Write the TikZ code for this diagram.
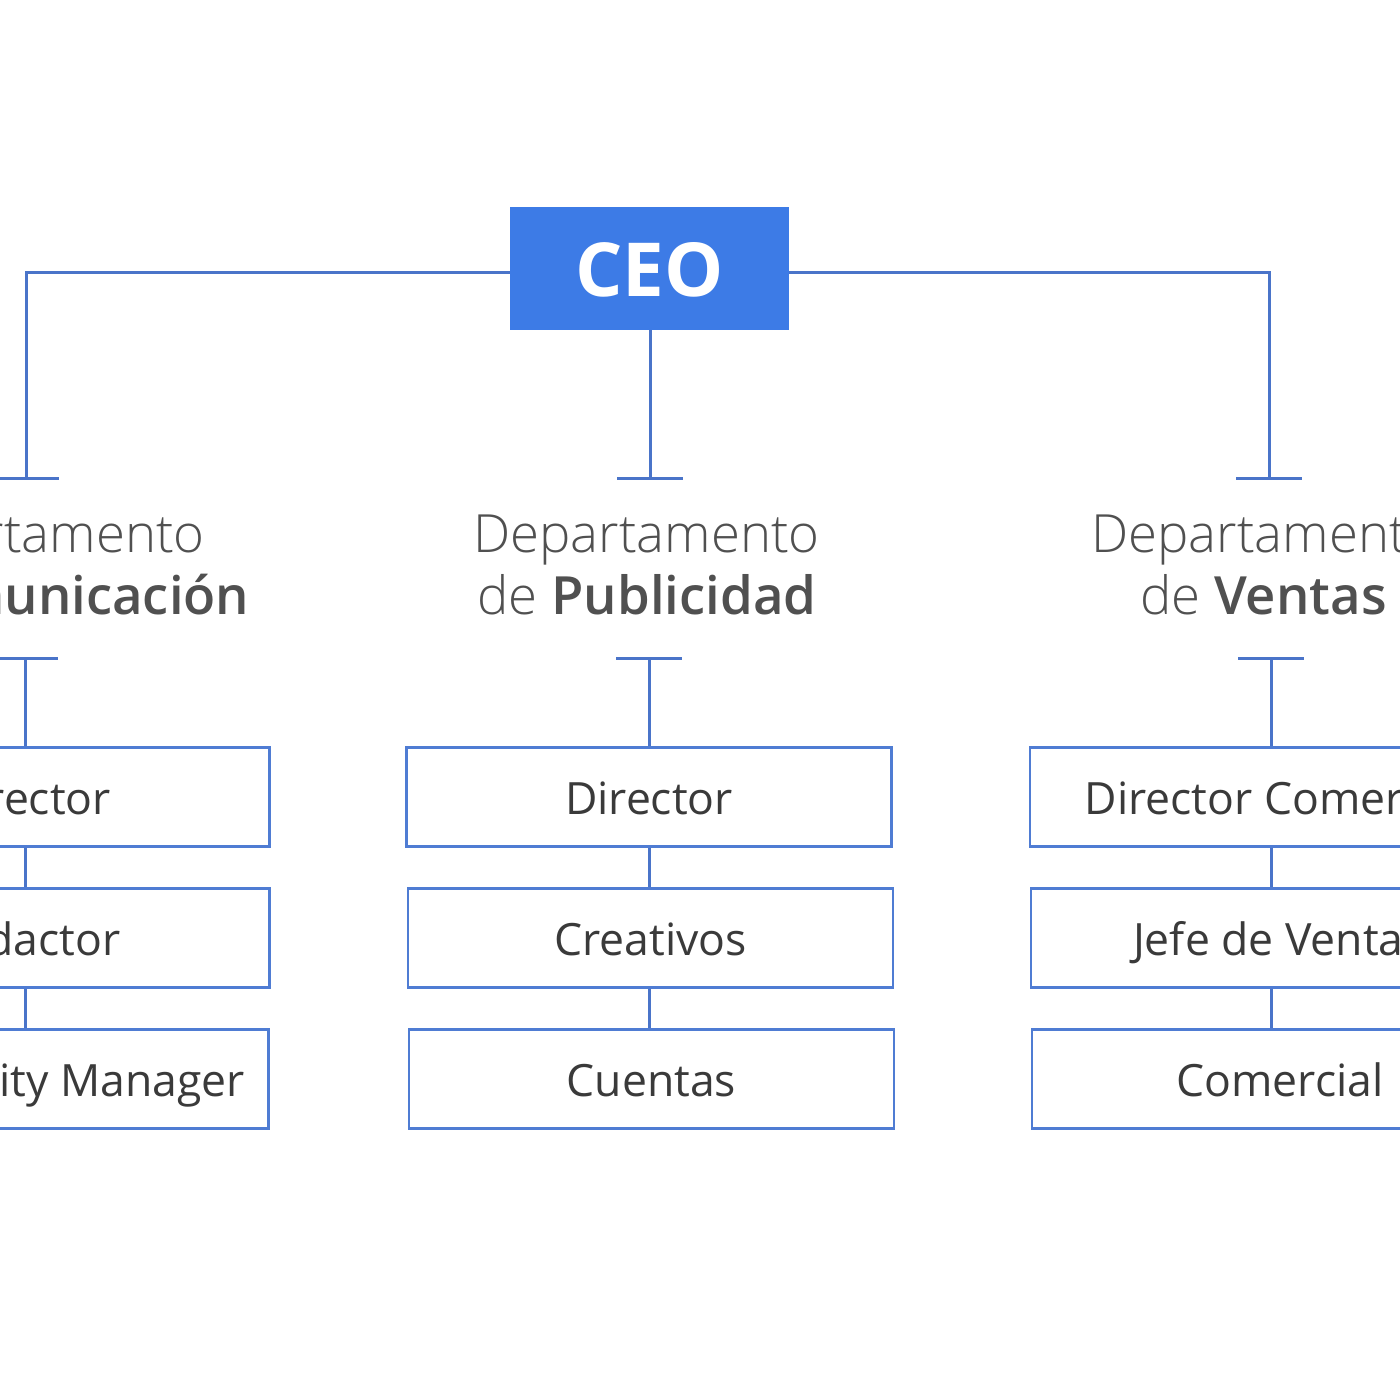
\documentclass[tikz,border=0pt]{standalone}
\usepackage{fontspec}
\setmainfont{Open Sans}
\IfFontExistsTF{Open Sans Light}{\newfontfamily\lightfont{Open Sans Light}}{\newfontfamily\lightfont{Open Sans}}
\definecolor{ceoblue}{HTML}{3D7BE6}
\definecolor{lineblue}{HTML}{4A74C9}
\definecolor{boxblue}{HTML}{4F7CD3}
\definecolor{deptgray}{HTML}{505050}
\definecolor{textgray}{HTML}{3A3A3A}
\begin{document}
\begin{tikzpicture}[x=1pt,y=-1pt,
  ceobox/.style={fill=ceoblue, text=white, minimum width=279pt, minimum height=123pt,
    inner sep=0pt, text height=55pt, text depth=0pt, font=\fontsize{74.5}{74.5}\selectfont\bfseries},
  rolebox/.style={draw=boxblue, line width=2.8pt, fill=white, minimum width=485pt, minimum height=99pt,
    inner sep=0pt, text height=34pt, text depth=0pt, text=textgray, font=\fontsize{44.5}{44.5}\selectfont},
  rolewide/.style={rolebox, minimum width=496pt},
  deptline/.style={anchor=base, text=deptgray, inner sep=0pt, font=\lightfont\fontsize{52.7}{62}\selectfont},
  conn/.style={draw=lineblue, line width=3pt},
]
\useasboundingbox (0,0) rectangle (1400,1400);
\fill[white] (0,0) rectangle (1400,1400);
\clip (0,0) rectangle (1400,1400);

% CEO
\node[ceobox] (ceo) at (649.5,268.5) {CEO};

% upper tee coordinates
\coordinate (t1) at (26,478);
\coordinate (t2) at (650,478);
\coordinate (t3) at (1269,478);
% lower tee coordinates
\coordinate (u1) at (25,658);
\coordinate (u2) at (649,658);
\coordinate (u3) at (1271,658);

% department titles
\node[deptline] (d1a) at (31.5,552) {Departamento};
\node[deptline] (d1b) at (32,614) {de \textbf{Comunicación}};
\node[deptline] (d2a) at (646.5,552) {Departamento};
\node[deptline] (d2b) at (647,614) {de \textbf{Publicidad}};
\node[deptline] (d3a) at (1264.5,552) {Departamento};
\node[deptline] (d3b) at (1263.5,614) {de \textbf{Ventas}};

% role boxes
\node[rolebox] (b11) at (27,797) {Director};
\node[rolebox] (b12) at (27,938) {Redactor};
\node[rolebox] (b13) at (26,1079) {Community Manager};
\node[rolebox] (b21) at (649,797) {Director};
\node[rolebox] (b22) at (650.5,938) {Creativos};
\node[rolebox] (b23) at (651.5,1079) {Cuentas};
\node[rolewide] (b31) at (1278,797) {Director Comercial};
\node[rolewide] (b32) at (1279,938) {Jefe de Ventas};
\node[rolewide] (b33) at (1280,1079) {Comercial};

% CEO connectors
\draw[conn] ([yshift=-3.5pt]ceo.west) -| (t1);
\draw[conn] ([yshift=-3.5pt]ceo.east) -| (t3);
\draw[conn] (ceo.south -| t2) -- (t2);

% upper tee bars
\foreach \t in {t1,t2,t3}{
  \draw[conn] ([xshift=-33pt]\t) -- ([xshift=33pt]\t);
}
% lower tee bars
\foreach \t in {u1,u2,u3}{
  \draw[conn] ([xshift=-33pt]\t) -- ([xshift=33pt]\t);
}

% lower tees to first boxes
\draw[conn] (u1) -- (u1 |- b11.north);
\draw[conn] (u2) -- (u2 |- b21.north);
\draw[conn] (u3) -- (u3 |- b31.north);

% box-to-box connectors
\draw[conn] (u1 |- b11.south) -- (u1 |- b12.north);
\draw[conn] (u1 |- b12.south) -- (u1 |- b13.north);
\draw[conn] (u2 |- b21.south) -- (u2 |- b22.north);
\draw[conn] (u2 |- b22.south) -- (u2 |- b23.north);
\draw[conn] (u3 |- b31.south) -- (u3 |- b32.north);
\draw[conn] (u3 |- b32.south) -- (u3 |- b33.north);
\end{tikzpicture}
\end{document}
